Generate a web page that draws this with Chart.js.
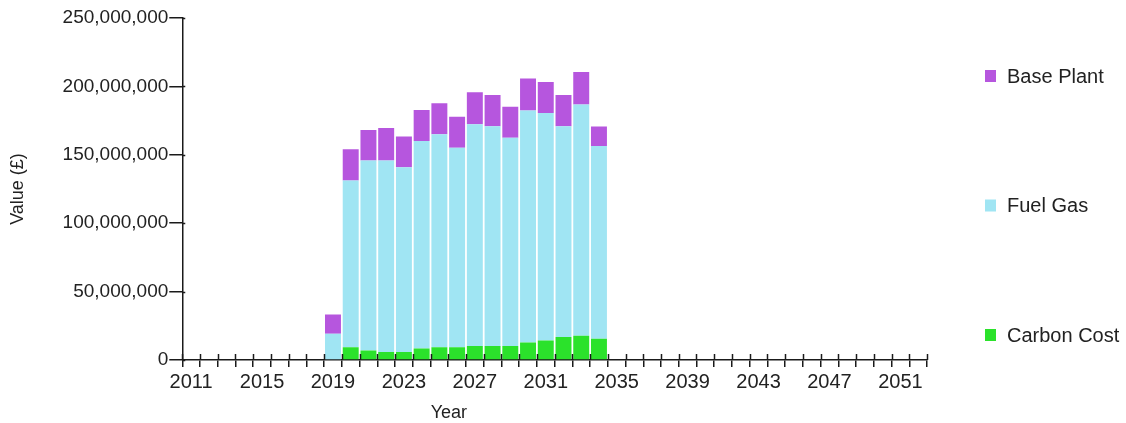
<!DOCTYPE html>
<html>
<head>
<meta charset="utf-8">
<script src="https://cdn.jsdelivr.net/npm/chart.js@4.4.0/dist/chart.umd.min.js"></script>
<style>
html, body { margin: 0; padding: 0; background: #fff; }
#wrap { width: 1126px; height: 423px; position: relative; }
</style>
</head>
<body>
<div id="wrap"><canvas id="myChart"></canvas></div>
<script>
// Datos del grafico (valores en libras)
const years = ['2011','2012','2013','2014','2015','2016','2017','2018','2019','2020',
  '2021','2022','2023','2024','2025','2026','2027','2028','2029','2030',
  '2031','2032','2033','2034','2035','2036','2037','2038','2039','2040',
  '2041','2042','2043','2044','2045','2046','2047','2048','2049','2050',
  '2051','2052'];

const carbonCost = [null,null,null,null,null,null,null,null,
  0.5e6, 9.4e6, 6.9e6, 5.9e6, 5.9e6, 8.4e6, 9.4e6, 9.4e6,
  10.3e6, 10.3e6, 10.3e6, 12.8e6, 14.3e6, 16.8e6, 17.7e6, 15.5e6,
  null,null,null,null,null,null,null,null,null,null,null,null,null,null,null,null,null,null];

const fuelGas = [null,null,null,null,null,null,null,null,
  18.7e6, 121.9e6, 138.9e6, 139.9e6, 135.0e6, 151.7e6, 155.6e6, 145.7e6,
  162.1e6, 160.6e6, 152.2e6, 169.5e6, 166.2e6, 154.1e6, 169.0e6, 140.9e6,
  null,null,null,null,null,null,null,null,null,null,null,null,null,null,null,null,null,null];

const basePlant = [null,null,null,null,null,null,null,null,
  14.0e6, 22.7e6, 22.4e6, 23.7e6, 22.4e6, 22.7e6, 22.7e6, 22.7e6,
  23.4e6, 22.9e6, 22.7e6, 23.4e6, 22.7e6, 22.9e6, 23.9e6, 14.3e6,
  null,null,null,null,null,null,null,null,null,null,null,null,null,null,null,null,null,null];

const yTicks = [0, 50000000, 100000000, 150000000, 200000000, 250000000];

const fuente = "'Liberation Sans', Arial, sans-serif";
const colorTexto = '#222';
const colorEje = '#1a1a1a';

// Marcas de los ejes que cruzan hacia dentro, titulo "Year" y leyenda
const extrasPlugin = {
  id: 'extras',
  afterDraw(chart) {
    const c = chart.ctx;
    const x = chart.scales.x;
    const y = chart.scales.y;
    const area = chart.chartArea;
    c.save();
    c.strokeStyle = colorEje;
    c.lineWidth = 1.5;
    // marcas del eje x hacia arriba
    const n = x.getLabels().length;
    const paso = x.width / n;
    for (let i = 0; i <= n; i++) {
      const px = Math.round(x.left + i * paso) + 0.5;
      c.beginPath();
      c.moveTo(px, area.bottom);
      c.lineTo(px, area.bottom - 6);
      c.stroke();
    }
    // marcas del eje y hacia la derecha
    y.ticks.forEach(t => {
      const py = Math.round(y.getPixelForValue(t.value)) + 0.5;
      c.beginPath();
      c.moveTo(area.left, py);
      c.lineTo(area.left + 3, py);
      c.stroke();
    });

    // titulo del eje x
    c.fillStyle = colorTexto;
    c.font = '18px ' + fuente;
    c.textAlign = 'center';
    c.textBaseline = 'middle';
    c.fillText('Year', area.left + area.width * 0.358, chart.height - 10);

    // leyenda (orden inverso al apilado)
    const items = chart.data.datasets.slice().reverse();
    c.font = '20px ' + fuente;
    c.textAlign = 'left';
    items.forEach((ds, i) => {
      const cy = area.top + 58 + i * 129.5;
      c.fillStyle = ds.backgroundColor;
      c.fillRect(area.right + 58, cy - 6, 11, 12);
      c.fillStyle = colorTexto;
      c.fillText(ds.label, area.right + 80, cy + 1);
    });
    c.restore();
  }
};

const ctx = document.getElementById('myChart').getContext('2d');
const myChart = new Chart(ctx, {
  type: 'bar',
  data: {
    labels: years,
    datasets: [
      { label: 'Carbon Cost', data: carbonCost, backgroundColor: '#2be22b' },
      { label: 'Fuel Gas', data: fuelGas, backgroundColor: '#a0e5f3' },
      { label: 'Base Plant', data: basePlant, backgroundColor: '#b656de' }
    ]
  },
  options: {
    responsive: true,
    maintainAspectRatio: false,
    animation: false,
    layout: { padding: { top: 18, right: 199, bottom: 26, left: 0 } },
    datasets: { bar: { barPercentage: 0.9, categoryPercentage: 1.0 } },
    plugins: {
      legend: { display: false },
      tooltip: { enabled: false }
    },
    scales: {
      x: {
        stacked: true,
        offset: true,
        grid: { display: true, drawOnChartArea: false, tickLength: 7, color: colorEje, lineWidth: 1.5, offset: true },
        border: { display: true, color: colorEje, width: 1.5 },
        ticks: {
          autoSkip: false,
          maxRotation: 0,
          padding: 3,
          color: colorTexto,
          font: { family: fuente, size: 20 },
          callback: function(val, i) {
            return (i % 4 === 0) ? years[i] : '';
          }
        }
      },
      y: {
        stacked: true,
        min: 0,
        max: 250000000,
        afterBuildTicks: (axis) => { axis.ticks = yTicks.map(v => ({ value: v })); },
        grid: { display: true, drawOnChartArea: false, tickLength: 13, color: colorEje, lineWidth: 1.5 },
        border: { display: true, color: colorEje, width: 1.5 },
        ticks: {
          padding: 1,
          color: colorTexto,
          font: { family: fuente, size: 19 },
          callback: v => v.toLocaleString('en-US')
        },
        title: {
          display: true,
          text: 'Value (£)',
          color: colorTexto,
          font: { family: fuente, size: 18 },
          padding: { top: 7, bottom: 33 }
        }
      }
    }
  },
  plugins: [extrasPlugin]
});
</script>
</body>
</html>
